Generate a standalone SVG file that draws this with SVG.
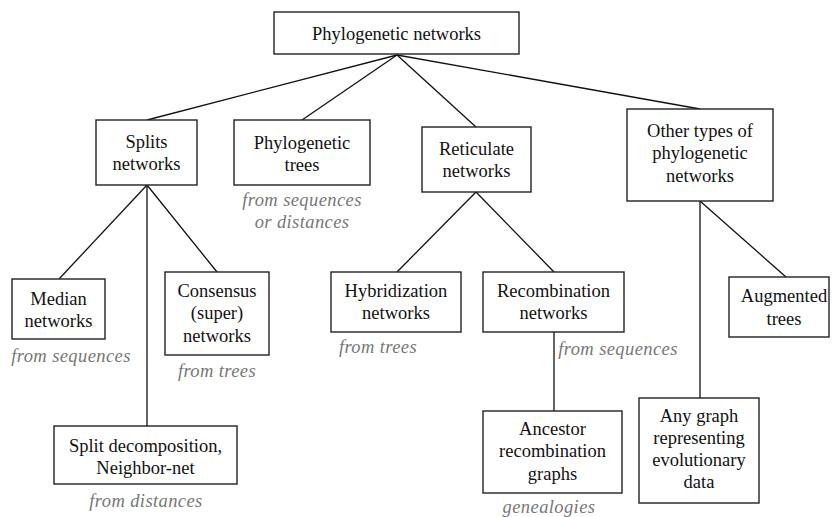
<svg xmlns="http://www.w3.org/2000/svg" width="832" height="517" viewBox="0 0 832 517" font-family="Liberation Serif">
<style>
rect{fill:#fff;stroke:#222;stroke-width:1.4}
.c line{stroke:#111;stroke-width:1.3}
text{font-size:18.5px;fill:#111;text-anchor:middle}
.n{font-style:italic;fill:#777;letter-spacing:0.4px}
</style>
<rect x="0" y="0" width="832" height="517" style="stroke:none"/>
<g class="c">
<line x1="397" y1="55" x2="147" y2="120"/>
<line x1="397" y1="55" x2="302" y2="120"/>
<line x1="397" y1="55" x2="476" y2="127"/>
<line x1="397" y1="55" x2="700" y2="109"/>
<line x1="147" y1="185" x2="59" y2="279"/>
<line x1="147" y1="185" x2="147" y2="426"/>
<line x1="147" y1="185" x2="217" y2="272"/>
<line x1="476" y1="192" x2="397" y2="272"/>
<line x1="476" y1="192" x2="554" y2="272"/>
<line x1="554" y1="332" x2="554" y2="411"/>
<line x1="700" y1="201" x2="786" y2="277"/>
<line x1="700" y1="201" x2="700" y2="398"/>
</g>
<g id="root"><rect x="274" y="12" width="245" height="42"/><text font-family="Liberation Serif" x="396.5" y="40">Phylogenetic networks</text></g>
<g id="splits"><rect x="96" y="120" width="101" height="65"/><text font-family="Liberation Serif" x="146.5" y="148">Splits</text><text font-family="Liberation Serif" x="146.5" y="170">networks</text></g>
<g id="trees"><rect x="234" y="120" width="136" height="65"/><text font-family="Liberation Serif" x="302" y="149">Phylogenetic</text><text font-family="Liberation Serif" x="302" y="171">trees</text>
<text font-family="Liberation Serif" class="n" x="302" y="206">from sequences</text><text font-family="Liberation Serif" class="n" x="302" y="228">or distances</text></g>
<g id="reticulate"><rect x="422" y="127" width="109" height="65"/><text font-family="Liberation Serif" x="476.5" y="155">Reticulate</text><text font-family="Liberation Serif" x="476.5" y="177">networks</text></g>
<g id="other"><rect x="627" y="109" width="146" height="92"/><text font-family="Liberation Serif" x="700" y="137">Other types of</text><text font-family="Liberation Serif" x="700" y="159">phylogenetic</text><text font-family="Liberation Serif" x="700" y="182">networks</text></g>
<g id="median"><rect x="12" y="279" width="93" height="60"/><text font-family="Liberation Serif" x="58.5" y="305">Median</text><text font-family="Liberation Serif" x="58.5" y="327">networks</text>
<text font-family="Liberation Serif" class="n" x="71" y="362">from sequences</text></g>
<g id="consensus"><rect x="165" y="272" width="104" height="83"/><text font-family="Liberation Serif" x="217" y="297">Consensus</text><text font-family="Liberation Serif" x="217" y="319">(super)</text><text font-family="Liberation Serif" x="217" y="342">networks</text>
<text font-family="Liberation Serif" class="n" x="217" y="377">from trees</text></g>
<g id="splitdec"><rect x="54" y="426" width="183" height="58"/><text font-family="Liberation Serif" x="145.5" y="452">Split decomposition,</text><text font-family="Liberation Serif" x="145.5" y="474">Neighbor-net</text>
<text font-family="Liberation Serif" class="n" x="146" y="507">from distances</text></g>
<g id="hybrid"><rect x="331" y="272" width="130" height="60"/><text font-family="Liberation Serif" x="396" y="297">Hybridization</text><text font-family="Liberation Serif" x="396" y="319">networks</text>
<text font-family="Liberation Serif" class="n" x="378" y="353">from trees</text></g>
<g id="recomb"><rect x="483" y="272" width="141" height="60"/><text font-family="Liberation Serif" x="553.5" y="297">Recombination</text><text font-family="Liberation Serif" x="553.5" y="319">networks</text>
<text font-family="Liberation Serif" class="n" x="618" y="355">from sequences</text></g>
<g id="ancestor"><rect x="483" y="411" width="139" height="82"/><text font-family="Liberation Serif" x="552.5" y="435">Ancestor</text><text font-family="Liberation Serif" x="552.5" y="457">recombination</text><text font-family="Liberation Serif" x="552.5" y="480">graphs</text>
<text font-family="Liberation Serif" class="n" x="549" y="513">genealogies</text></g>
<g id="augmented"><rect x="729" y="277" width="100" height="60"/><text font-family="Liberation Serif" x="784" y="302">Augmented</text><text font-family="Liberation Serif" x="784" y="325">trees</text></g>
<g id="anygraph"><rect x="639" y="398" width="120" height="105"/><text font-family="Liberation Serif" x="699" y="422">Any graph</text><text font-family="Liberation Serif" x="699" y="444">representing</text><text font-family="Liberation Serif" x="699" y="466">evolutionary</text><text font-family="Liberation Serif" x="699" y="488">data</text></g>
</svg>
